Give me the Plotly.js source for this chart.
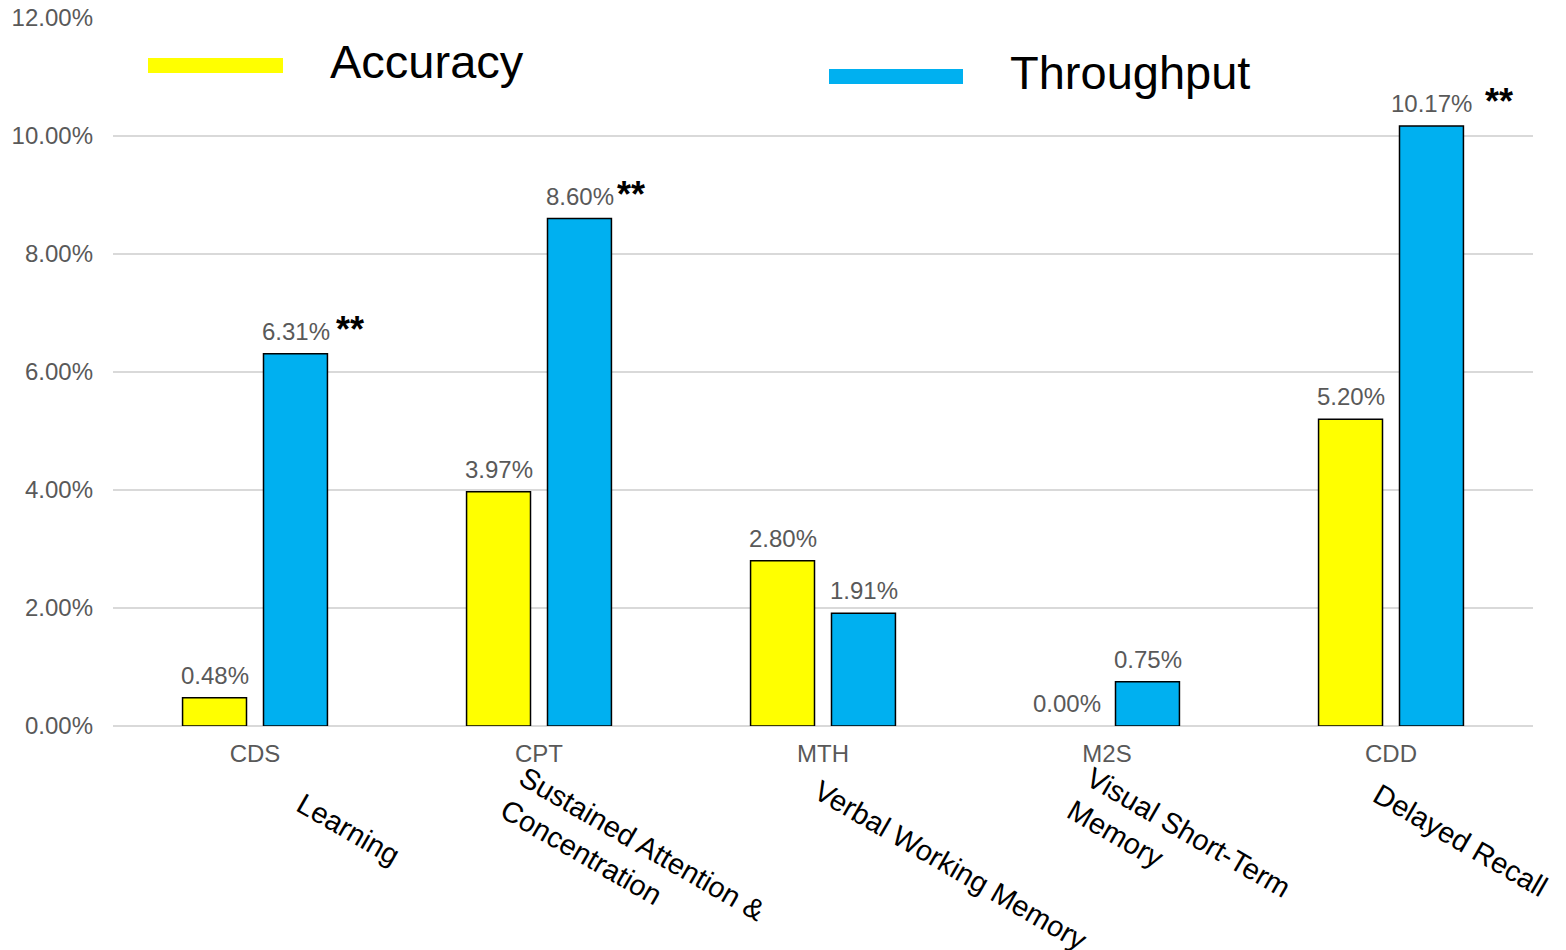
<!DOCTYPE html>
<html>
<head>
<meta charset="utf-8">
<script src="https://cdn.plot.ly/plotly-3.0.1.min.js"></script>
<style>html,body{margin:0;padding:0;background:#fff;}#chart{width:1566px;height:950px;}</style>
</head>
<body>
<div id="chart"></div>
<script>
// ---- data ----
const categories = ["CDS", "CPT", "MTH", "M2S", "CDD"];
const domains = ["Learning", "Sustained Attention &<br>Concentration", "Verbal Working Memory", "Visual Short-Term<br>Memory", "Delayed Recall"];
const accuracy = [0.0048, 0.0397, 0.0280, 0.0000, 0.0520];
const throughput = [0.0631, 0.0860, 0.0191, 0.0075, 0.1017];
const significance = ["**", "**", "", "", "**"];
const seriesNames = ["Accuracy", "Throughput"];
const yTickVals = [0, 0.02, 0.04, 0.06, 0.08, 0.10, 0.12];

// ---- styling ----
const FONT = "Liberation Sans, Arial, sans-serif";
const GRAY = "#595959";
const colors = ["#FFFF00", "#00B0F0"];

const traces = [accuracy, throughput].map((vals, i) => ({
  type: "bar",
  name: seriesNames[i],
  x: categories,
  y: vals,
  marker: { color: colors[i], line: { color: "#000000", width: vals.map(v => v === 0 ? 0 : 1.5) } },
  hoverinfo: "x+y"
}));

// plot area in px: x 113..1533, y 18..726
const L = 113, R = 1533, T = 18, B = 726;
const px = v => (v - L) / (R - L);
const py = v => (B - v) / (B - T);

const annotations = [];
const barOffset = 40.5;
// value labels
[accuracy, throughput].forEach((vals, s) => {
  vals.forEach((v, i) => {
    annotations.push({
      x: categories[i], y: v, xref: "x", yref: "y",
      xshift: s === 0 ? -barOffset : barOffset, yshift: 7,
      text: (v * 100).toFixed(2) + "%",
      showarrow: false, xanchor: "center", yanchor: "bottom",
      font: { family: FONT, size: 24, color: GRAY }
    });
  });
});
// significance stars (offset from throughput bar centre)
const starShift = [54, 51, 0, 0, 67];
significance.forEach((s, i) => {
  if (!s) return;
  annotations.push({
    x: categories[i], y: throughput[i], xref: "x", yref: "y",
    xshift: barOffset + starShift[i], yshift: 24,
    text: "<b>" + s + "</b>", showarrow: false, xanchor: "center", yanchor: "middle",
    font: { family: FONT, size: 36, color: "#000000" }
  });
});
// rotated domain labels
const domainPos = [[348, 829], [632, 860], [950, 865], [1179, 849], [1460, 840]];
domains.forEach((d, i) => {
  annotations.push({
    x: px(domainPos[i][0]), y: py(domainPos[i][1]), xref: "paper", yref: "paper",
    text: d, showarrow: false, textangle: 30, align: "left",
    xanchor: "center", yanchor: "middle",
    font: { family: FONT, size: 29, color: "#000000" }
  });
});
// legend text
annotations.push({
  x: px(328), y: py(62), xref: "paper", yref: "paper", text: seriesNames[0],
  showarrow: false, xanchor: "left", yanchor: "middle",
  font: { family: FONT, size: 47, color: "#000000" }
});
annotations.push({
  x: px(1008), y: py(72), xref: "paper", yref: "paper", text: seriesNames[1],
  showarrow: false, xanchor: "left", yanchor: "middle",
  font: { family: FONT, size: 47, color: "#000000" }
});

const shapes = [
  { type: "rect", xref: "paper", yref: "paper", x0: px(148), x1: px(283), y0: py(73), y1: py(58),
    fillcolor: colors[0], line: { width: 0 } },
  { type: "rect", xref: "paper", yref: "paper", x0: px(829), x1: px(963), y0: py(84), y1: py(69),
    fillcolor: colors[1], line: { width: 0 } }
];

const layout = {
  width: 1566, height: 950,
  margin: { l: L, r: 1566 - R, t: T, b: 950 - B },
  paper_bgcolor: "#ffffff", plot_bgcolor: "#ffffff",
  barmode: "group", bargap: 0.43, bargroupgap: 0.21,
  showlegend: false,
  font: { family: FONT, size: 24, color: GRAY },
  xaxis: {
    type: "category", showgrid: false, zeroline: false,
    showline: false, ticks: "", ticklabelstandoff: 11,
    tickfont: { family: FONT, size: 24, color: GRAY }
  },
  yaxis: {
    range: [0, 0.12], tickvals: yTickVals, tickformat: ".2%",
    showgrid: true, gridcolor: "#d9d9d9", gridwidth: 1.3,
    zeroline: true, zerolinecolor: "#d9d9d9", zerolinewidth: 1.3,
    showline: false, ticks: "", ticklabelstandoff: 19,
    tickfont: { family: FONT, size: 24, color: GRAY }
  },
  annotations: annotations,
  shapes: shapes
};

Plotly.newPlot("chart", traces, layout, { displayModeBar: false, staticPlot: true });
</script>
</body>
</html>
